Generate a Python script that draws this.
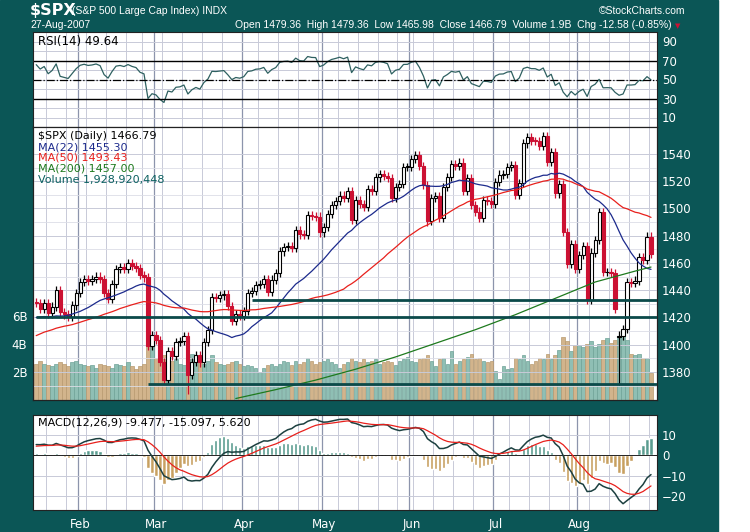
import numpy as np, pandas as pd, matplotlib
matplotlib.use("Agg")
import matplotlib.pyplot as plt, seaborn as sns
from matplotlib.patches import Rectangle

sns.set_style("white")
plt.rcParams['font.family'] = ['DejaVu Sans']

warmup = [1367,1377,1364,1365,1380,1382,1385,1388,1385,1394,1397,1396,1400,1399,1401,1406,1402,1400,1381,1386,1396,1400,1396,
          1409,1413,1412,1414,1410,1415,1418,1416,1425,1427,1426,1428,1427,1418,1411,1410,1416,1424,1418,
          1416,1410,1409,1412,1415,1414,1423,1432,1431]
closes = [1430.62,1426.37,1430.50,1422.95,1427.99,1440.13,1423.90,1422.18,1420.62,1428.82,1438.24,
 1445.94,1448.39,1446.99,1448.00,1450.02,1448.31,1438.06,1433.37,1444.26,1455.30,1456.81,1455.54,1459.68,1457.63,1456.38,1451.19,1449.37,1399.04,1406.82,
 1403.17,1387.17,1374.12,1395.41,1391.97,1401.89,1402.84,1406.60,1377.95,1387.17,1392.28,1386.95,1402.06,1410.94,1435.04,1434.54,1436.11,1437.50,1428.61,1417.23,1422.53,1420.86,
 1424.55,1437.77,1439.37,1443.76,1444.61,1448.39,1438.87,1447.80,1452.85,1468.47,1471.48,1472.50,1470.73,1484.35,1480.93,1480.41,1495.42,1494.25,1494.07,1482.37,
 1486.30,1495.92,1502.39,1505.62,1509.48,1507.72,1512.58,1491.47,1505.85,1503.15,1501.19,1514.14,1512.75,1522.75,1525.10,1524.12,1522.28,1507.51,1515.73,1518.11,1530.23,1530.62,
 1536.34,1539.18,1530.95,1517.38,1490.72,1507.67,1509.12,1493.00,1515.67,1522.97,1532.91,1531.05,1533.70,1512.84,1522.19,1502.56,1497.74,1492.89,1506.34,1505.71,1503.35,
 1519.43,1524.87,1525.40,1530.44,1531.85,1510.12,1518.76,1547.70,1552.50,1549.52,1549.37,1546.17,1553.08,1534.10,1541.57,1511.04,1518.09,1482.66,1458.95,1473.91,1455.27,
 1465.81,1472.20,1433.06,1467.67,1476.71,1497.49,1453.09,1453.64,1452.92,1426.54,1406.70,1411.27,1445.94,1445.55,1447.12,1464.07,1462.50,1479.37,1466.79]
volumes = [2.6,2.8,2.6,2.5,2.4,2.6,2.7,2.6,2.4,2.7,2.8,
 2.6,2.5,2.4,2.5,2.3,2.6,2.5,2.4,2.3,2.6,2.5,2.4,2.7,2.4,2.2,2.4,2.6,4.0,3.8,
 3.0,3.1,3.2,3.0,2.8,2.9,2.6,2.5,3.1,3.3,2.9,3.0,2.6,2.8,3.2,2.7,2.6,2.5,2.6,2.7,2.8,2.6,
 2.4,2.5,2.4,2.3,2.0,2.3,2.5,2.6,2.4,2.6,2.8,2.7,2.5,2.8,2.6,2.7,3.0,2.8,2.6,2.7,
 2.8,2.9,2.7,2.6,2.3,2.6,2.7,3.0,2.8,2.7,2.9,2.7,2.8,2.9,2.6,2.7,2.8,2.7,2.5,2.8,2.9,3.1,
 2.8,2.7,2.9,3.0,3.2,2.8,2.4,2.9,3.0,2.6,3.5,2.6,2.8,2.9,3.1,3.3,2.9,3.0,2.8,2.7,2.8,
 2.1,1.5,2.4,2.2,2.3,3.0,2.9,3.2,2.8,2.6,2.8,3.0,2.9,3.3,2.9,3.2,3.6,4.5,4.2,3.5,3.9,
 3.9,3.8,4.0,4.2,3.8,4.0,4.3,4.4,4.1,4.3,4.4,4.9,4.3,3.3,3.2,3.3,3.0,3.0,1.9]
low_overrides = {38: 1363.98, 146: 1370.60, 98: 1487.0}
ma200_idx = [50, 60, 70, 80, 90, 100, 110, 120, 130, 140, 150, 154]
ma200_val = [1360.5, 1367, 1374, 1382, 1391, 1401, 1411, 1422, 1434, 1446, 1454, 1457]
hlines = [(54, 1433), (0, 1420), (28, 1371)]
month_labels = ["Feb", "Mar", "Apr", "May", "Jun", "Jul", "Aug"]

# ---- derived ----
hol = pd.to_datetime(["2007-02-19", "2007-04-06", "2007-05-28", "2007-07-04"])
dates = [d for d in pd.bdate_range("2007-01-17", "2007-08-27") if d not in hol]
n = len(closes)
dates = dates[:n]
allc = pd.Series(warmup + closes)
W = len(warmup)
opens = [allc[W + i - 1] for i in range(n)]
opens[146] = 1406.0
x = np.arange(n)
ma22 = allc.rolling(22).mean().values[W:]
ma50 = allc.rolling(50, min_periods=40).mean().values[W:]
d = allc.diff()
up = d.clip(lower=0).ewm(alpha=1/14, adjust=False).mean()
dn = (-d.clip(upper=0)).ewm(alpha=1/14, adjust=False).mean()
rsi = (100 - 100 / (1 + up / dn)).values[W:]
macd = (allc.ewm(span=12, adjust=False).mean() - allc.ewm(span=26, adjust=False).mean())
sig = macd.ewm(span=9, adjust=False).mean()
hist = (macd - sig).values[W:]
macd = macd.values[W:]; sig = sig.values[W:]
month_start = [i for i in range(1, n) if dates[i].month != dates[i-1].month]
weeks = [i for i in range(1, n) if dates[i].weekday() < dates[i-1].weekday()]

TEAL = "#0b5656"
fig = plt.figure(figsize=(7.5, 5.32), dpi=100)
fig.patch.set_facecolor("white")
fig.add_artist(Rectangle((0, 0), 718/750, 1, transform=fig.transFigure, color=TEAL, zorder=-10))

L, Wd = 33/750, 624/750
def fy(y): return 1 - y/532
ax_r = fig.add_axes([L, fy(127), Wd, 95/532])
ax_v = fig.add_axes([L, fy(400), Wd, 273/532])
ax_p = fig.add_axes([L, fy(400), Wd, 273/532], sharex=ax_v)
ax_m = fig.add_axes([L, fy(510), Wd, 95/532])

def grid(ax, ys):
    for w in weeks:
        ax.axvline(w - 0.5, color="#c8cad8", lw=0.7, zorder=0)
    for m in month_start:
        ax.axvline(m - 0.5, color="#8c94ac", lw=0.9, zorder=0)
    for y in ys:
        ax.axhline(y, color="#c8cad8", lw=0.7, zorder=0)

for ax in (ax_r, ax_v, ax_p, ax_m):
    ax.set_xlim(-0.8, n + 0.5)
    for s in ax.spines.values():
        s.set_color("#222222"); s.set_linewidth(0.8)
    ax.tick_params(colors="white", labelsize=8.5, length=0)

# RSI
ax_r.set_facecolor("white")
ax_r.set_ylim(0, 100)
grid(ax_r, [10, 20, 30, 40, 50, 60, 70, 80, 90])
sns.lineplot(x=x, y=rsi, ax=ax_r, color="#2e6060", lw=0.9)
ax_r.axhline(70, color="black", lw=1); ax_r.axhline(30, color="black", lw=1)
ax_r.axhline(50, color="black", lw=0.9, ls="-.")
ax_r.yaxis.tick_right(); ax_r.set_yticks([10, 30, 50, 70, 90]); ax_r.set_xticks([])
ax_r.text(0.008, 0.97, "RSI(14) 49.64", transform=ax_r.transAxes, va="top", fontsize=8.5, color="black")

# Volume
ax_v.set_facecolor("white")
ax_v.set_ylim(0, 19.5)
grid(ax_v, [])
vcol = ["#d2b48c" if closes[i] < opens[i] else "#8fbfb4" for i in range(n)]
ax_v.bar(x, volumes, width=0.85, color=vcol, edgecolor=[("#b89a70" if c == "#d2b48c" else "#6fa398") for c in vcol], lw=0.5, zorder=1)
ax_v.set_yticks([2, 4, 6]); ax_v.set_yticklabels(["2B", "4B", "6B"])
ax_v.tick_params(axis="y", pad=4)

# Price
ax_p.patch.set_alpha(0)
ax_p.set_ylim(1359.4, 1559.8)
for y in range(1380, 1560, 20):
    ax_p.axhline(y, color="#c8cad8", lw=0.7, zorder=0)
    ax_p.axhline(y - 10, color="#dcdde6", lw=0.6, zorder=0)
for xi in x:
    o, c = opens[xi], closes[xi]
    lo = low_overrides.get(xi, min(o, c) - 3); hi = max(o, c) + 3
    col = "#cc1133" if c < o else "black"
    ax_p.vlines(xi, lo, hi, color=col, lw=0.9, zorder=3)
    ax_p.bar(xi, max(abs(c - o), 0.6), bottom=min(o, c), width=0.8,
             color=("#cc1133" if c < o else "white"), edgecolor=col, lw=0.8, zorder=4)
sns.lineplot(x=x, y=ma22, ax=ax_p, color="#1c2a8c", lw=0.9, zorder=5)
sns.lineplot(x=x, y=ma50, ax=ax_p, color="#e8201c", lw=0.9, zorder=5)
sns.lineplot(x=ma200_idx, y=ma200_val, ax=ax_p, color="#1e7a1e", lw=0.9, zorder=5)
for xs, yv in hlines:
    ax_p.plot([xs, n + 0.5], [yv, yv], color="#0b4a4a", lw=2, zorder=6, solid_capstyle="butt")
ax_p.yaxis.tick_right(); ax_p.set_yticks(range(1380, 1560, 20))
ax_p.tick_params(axis="y", colors="white", labelsize=8.5)
plt.setp(ax_p.get_xticklabels(), visible=False); plt.setp(ax_v.get_xticklabels(), visible=False)
ax_p.set_xticks([])
ty = 0.985
for txt, col in [("$SPX (Daily) 1466.79", "black"), ("MA(22) 1455.30", "#1c2a8c"),
                 ("MA(50) 1493.43", "#e8201c"), ("MA(200) 1457.00", "#1e7a1e"),
                 ("Volume 1,928,920,448", "#0b6060")]:
    ax_p.text(0.008, ty, txt, transform=ax_p.transAxes, va="top", fontsize=8, color=col, zorder=10)
    ty -= 0.04

# MACD
ax_m.set_facecolor("white")
grid(ax_m, [-20, -10, 0, 10])
ax_m.bar(x, hist * 1.5, width=0.8, color=["#c8a060" if h < 0 else "#5a9c90" for h in hist], zorder=2)
ax_m.axhline(0, color="black", lw=0.6, zorder=2)
sns.lineplot(x=x, y=macd, ax=ax_m, color="#1c4040", lw=1.1, zorder=3)
sns.lineplot(x=x, y=sig, ax=ax_m, color="#e8201c", lw=0.9, zorder=3)
ax_m.set_ylim(-27, 20)
ax_m.yaxis.tick_right(); ax_m.set_yticks([-20, -10, 0, 10])
ax_m.set_xticks(month_start); ax_m.set_xticklabels(month_labels)
ax_m.tick_params(axis="x", colors="white", pad=6)
ax_m.text(0.008, 0.97, "MACD(12,26,9) -9.477, -15.097, 5.620", transform=ax_m.transAxes, va="top", fontsize=8, color="black")

fig.text(30/750, fy(11), "$SPX", color="white", fontsize=11.5, fontweight="bold", va="center")
fig.text(72/750, fy(11), "(S&P 500 Large Cap Index) INDX", color="white", fontsize=7.5, va="center",
         family="Liberation Sans")
fig.text(685/750, fy(11), "©StockCharts.com", color="white", fontsize=7.5, va="center", ha="right",
         family="Liberation Sans")
fig.text(30/750, fy(25), "27-Aug-2007", color="white", fontsize=7.5, va="center", family="Liberation Sans")
fig.text(672/750, fy(25), "Open 1479.36  High 1479.36  Low 1465.98  Close 1466.79  Volume 1.9B  Chg -12.58 (-0.85%)",
         color="white", fontsize=7.5, va="center", ha="right", family="Liberation Sans")
fig.text(678/750, fy(26), "▼", color="#cc1133", fontsize=5, va="center", ha="center")
fig.savefig("out.png", dpi=100, facecolor=fig.get_facecolor())
